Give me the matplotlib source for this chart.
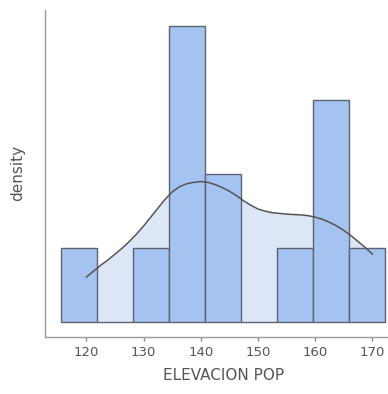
import numpy as np
import matplotlib.pyplot as plt

# =========================
# Data
# =========================
bin_edges = [115.5, 121.8, 128.1, 134.4, 140.7, 147.0, 153.3, 159.6, 165.9, 172.2]
bin_counts = [1, 0, 1, 4, 2, 0, 1, 3, 1]

kde_x = [120, 121.25, 122.5, 123.75, 125, 126.25, 127.5, 128.75, 130, 131.25,
         132.5, 133.75, 135, 136.25, 137.5, 138.75, 140, 141.25, 142.5, 143.75,
         145, 146.25, 147.5, 148.75, 150, 151.25, 152.5, 153.75, 155, 156.25,
         157.5, 158.75, 160, 161.25, 162.5, 163.75, 165, 166.25, 167.5, 168.75,
         170]
kde_y = [0.61, 0.69, 0.77, 0.84, 0.92, 1.00, 1.09, 1.19, 1.30, 1.42,
         1.54, 1.66, 1.76, 1.83, 1.87, 1.89, 1.90, 1.89, 1.86, 1.82,
         1.77, 1.71, 1.64, 1.58, 1.53, 1.50, 1.48, 1.47, 1.46, 1.455,
         1.45, 1.44, 1.42, 1.39, 1.35, 1.30, 1.24, 1.17, 1.09, 1.01,
         0.92]

xticks = [120, 130, 140, 150, 160, 170]

# =========================
# Figure
# =========================
plt.rcParams["font.family"] = "DejaVu Sans"

fig = plt.figure(figsize=(3.88, 3.94), dpi=100)
ax = fig.add_axes([0.115, 0.1455, 0.92, 0.8295])

# KDE fill behind bars
ax.fill_between(kde_x, 0, kde_y, color="#dce6f7", zorder=1, linewidth=0)

# histogram bars
lefts = np.array(bin_edges[:-1])
widths = np.diff(bin_edges)
ax.bar(lefts, bin_counts, width=widths, align="edge",
       color="#a4c3f1", edgecolor="#5d6370", linewidth=1.0, zorder=2)

# KDE line on top
ax.plot(kde_x, kde_y, color="#555555", linewidth=1.1, zorder=3)

ax.set_xlim(112.7, 175.1)
ax.set_ylim(-0.195, 4.22)

ax.set_xticks(xticks)
ax.set_yticks([])
ax.tick_params(axis="x", length=3, width=1, color="#888888",
               labelcolor="#555555", labelsize=9.5, pad=4)

for side in ["top", "right"]:
    ax.spines[side].set_visible(False)
for side in ["left", "bottom"]:
    ax.spines[side].set_color("#999999")
    ax.spines[side].set_linewidth(1.0)

ax.set_xlabel("ELEVACION POP", fontsize=11, color="#555555", labelpad=6)
ax.set_ylabel("density", fontsize=11, color="#555555", labelpad=14)

fig.savefig("out.png", dpi=100)
plt.close(fig)
